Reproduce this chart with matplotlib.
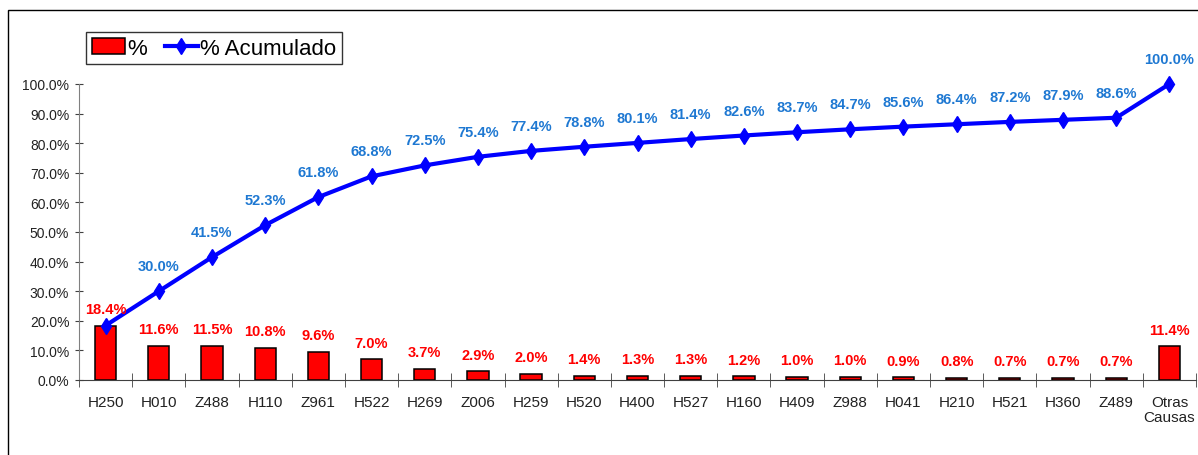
import numpy as np
import matplotlib.pyplot as plt
from matplotlib.patches import Rectangle, Patch
from matplotlib.lines import Line2D
from matplotlib.ticker import FuncFormatter, FixedLocator

plt.rcParams['font.family'] = ['Liberation Sans', 'DejaVu Sans']

############################################### datos
causas = ['H250', 'H010', 'Z488', 'H110', 'Z961', 'H522', 'H269', 'Z006', 'H259',
          'H520', 'H400', 'H527', 'H160', 'H409', 'Z988', 'H041', 'H210', 'H521',
          'H360', 'Z489', 'Otras\nCausas']
porc = [18.4, 11.6, 11.5, 10.8, 9.6, 7.0, 3.7, 2.9, 2.0, 1.4, 1.3, 1.3, 1.2,
        1.0, 1.0, 0.9, 0.8, 0.7, 0.7, 0.7, 11.4]
acum = [18.4, 30.0, 41.5, 52.3, 61.8, 68.8, 72.5, 75.4, 77.4, 78.8, 80.1, 81.4,
        82.6, 83.7, 84.7, 85.6, 86.4, 87.2, 87.9, 88.6, 100.0]

azul_txt = '#1E78D2'
gris = '#404040'

fig = plt.figure(figsize=(11.98, 4.56), dpi=100)
ax = fig.add_axes([79/1198, 75/456, 1117/1198, 296/456])

x = np.arange(len(causas))
ax.bar(x, porc, width=0.4, color='#FF0000', edgecolor='black', linewidth=1.1, zorder=2)
ax.plot(x, acum, color='#0000FF', lw=3, marker='d', markersize=8.5, zorder=3, clip_on=False)

for xi, v in zip(x, porc):
    ax.annotate('%.1f%%' % v, (xi, v), xytext=(0, 12), textcoords='offset points',
                ha='center', va='center', color='#FF0000', fontsize=10.5, fontweight='bold')
# el primer punto acumulado coincide con la barra, sin etiqueta
for xi, v in zip(x[1:], acum[1:]):
    ax.annotate('%.1f%%' % v, (xi, v), xytext=(0, 18), textcoords='offset points',
                ha='center', va='center', color=azul_txt, fontsize=10.5, fontweight='bold',
                annotation_clip=False)

ax.set_xlim(-0.5, len(causas) - 0.5)
ax.set_ylim(0, 100)
ax.set_yticks(np.arange(0, 101, 10))
ax.yaxis.set_major_formatter(FuncFormatter(lambda v, p: '%.1f%%' % v))
ax.set_xticks(x)
ax.set_xticklabels(causas, fontsize=11, color='#222222', linespacing=1.05)
ax.xaxis.set_minor_locator(FixedLocator(np.arange(-0.5, len(causas), 1.0)))
ax.tick_params(axis='x', which='major', length=0, pad=11)
ax.tick_params(axis='x', which='minor', direction='inout', length=10, color=gris)
ax.tick_params(axis='y', direction='inout', length=6, color=gris, labelsize=10,
               labelcolor='#222222', pad=4)

for s in ['top', 'right']:
    ax.spines[s].set_visible(False)
ax.spines['left'].set_color('#808080')
ax.spines['bottom'].set_color(gris)

# marco exterior
fig.patches.append(Rectangle((8/1198, -0.1), 1.2, (456 - 11)/456 + 0.1, fill=False,
                             edgecolor='black', lw=1, transform=fig.transFigure))

handles = [Patch(facecolor='#FF0000', edgecolor='black', lw=1.1),
           Line2D([], [], color='#0000FF', lw=3, marker='d', markersize=8.5)]
leg = fig.legend(handles, ['%', '% Acumulado'], loc='upper left',
                 bbox_to_anchor=(86/1198, 1 - 33/456), ncol=2, fontsize=16,
                 frameon=True, fancybox=False, edgecolor='black', borderaxespad=0,
                 handlelength=1.5, handletextpad=0.1, columnspacing=0.8,
                 borderpad=0.25)
leg.get_frame().set_linewidth(1)

fig.savefig('out.png', dpi=100)
